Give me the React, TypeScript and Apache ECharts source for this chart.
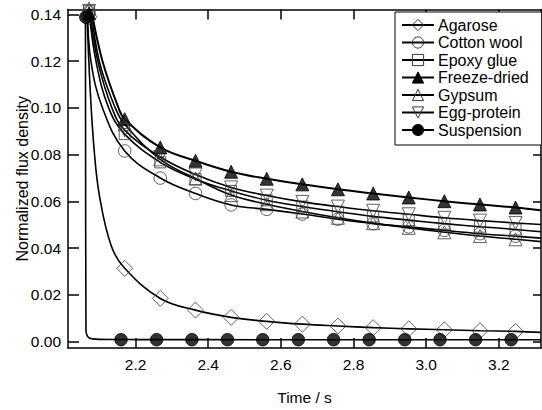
import React, { useEffect, useRef } from "react";
import * as echarts from "echarts";

// ---------- data ----------
const seriesNames = ["Agarose", "Cotton wool", "Epoxy glue", "Freeze-dried", "Gypsum", "Egg-protein", "Suspension"];

const xTickValues = [2.2, 2.4, 2.6, 2.8, 3.0, 3.2];
const yTickValues = [0.0, 0.02, 0.04, 0.06, 0.08, 0.1, 0.12, 0.14];

// sample (marker) times
const markerTimes = [2.072, 2.170, 2.268, 2.365, 2.463, 2.561, 2.659, 2.757, 2.854, 2.952, 3.050, 3.148, 3.246];
const suspensionTimes = [2.063, 2.160, 2.258, 2.355, 2.453, 2.550, 2.648, 2.745, 2.843, 2.941, 3.038, 3.136, 3.234];

// marker values
const agaroseMarkers = [0.1390, 0.0314, 0.0185, 0.0135, 0.0104, 0.0087, 0.0075, 0.0067, 0.0060, 0.0055, 0.0051, 0.0047, 0.0044];
const cottonMarkers = [0.1410, 0.0816, 0.0700, 0.0634, 0.0585, 0.0566, 0.0546, 0.0524, 0.0505, 0.0491, 0.0476, 0.0462, 0.0451];
const epoxyMarkers = [0.1415, 0.0888, 0.0767, 0.0695, 0.0645, 0.0605, 0.0578, 0.0556, 0.0536, 0.0520, 0.0505, 0.0492, 0.0480];
const freezeMarkers = [0.1405, 0.0952, 0.0831, 0.0774, 0.0727, 0.0697, 0.0673, 0.0652, 0.0634, 0.0617, 0.0601, 0.0587, 0.0574];
const gypsumMarkers = [0.1425, 0.0930, 0.0780, 0.0698, 0.0627, 0.0588, 0.0557, 0.0530, 0.0507, 0.0487, 0.0468, 0.0452, 0.0438];
const eggMarkers = [0.1415, 0.0905, 0.0790, 0.0715, 0.0660, 0.0625, 0.0598, 0.0578, 0.0560, 0.0545, 0.0530, 0.0518, 0.0508];
const suspensionMarkers = [0.1388, 0.00085, 0.00085, 0.00085, 0.00085, 0.00085, 0.00085, 0.00085, 0.00085, 0.00085, 0.00085, 0.00085, 0.00085];

// fitted curves: early part (steep drop)
const agaroseEarlyT = [2.066, 2.075, 2.086, 2.101, 2.133];
const agaroseEarlyY = [0.141, 0.108, 0.082, 0.062, 0.041];
const cottonEarlyT = [2.068, 2.077, 2.109];
const cottonEarlyY = [0.141, 0.120, 0.100];
const epoxyEarlyT = [2.072, 2.091, 2.126];
const epoxyEarlyY = [0.1415, 0.120, 0.100];
const freezeEarlyT = [2.080, 2.109, 2.153];
const freezeEarlyY = [0.1405, 0.120, 0.100];
const gypsumEarlyT = [2.078, 2.100, 2.144];
const gypsumEarlyY = [0.1425, 0.120, 0.100];
const eggEarlyT = [2.074, 2.096, 2.135];
const eggEarlyY = [0.1415, 0.120, 0.100];
const suspensionCurveT = [2.062, 2.0635, 2.067, 2.073, 2.082, 2.100, 2.200, 2.600, 3.000, 3.316];
const suspensionCurveY = [0.139, 0.0047, 0.0025, 0.0016, 0.0012, 0.0010, 0.0009, 0.00085, 0.0008, 0.0008];

// curve values at the right edge of the plot
const endTime = 3.316;
const endValues = [0.0040, 0.0443, 0.0470, 0.0562, 0.0428, 0.0501];

// ---------- chart ----------
const FONT = "'Liberation Sans', Arial, Helvetica, sans-serif";
const X_MIN = 2.014;
const X_MAX = 3.316;
const Y_MIN = -0.0027;
const Y_MAX = 0.1421;

function zip(ts: number[], ys: number[]) {
  return ts.map((t, i) => [t, ys[i]]);
}

export default function App() {
  const ref = useRef<HTMLDivElement>(null);

  useEffect(() => {
    if (!ref.current) return;
    const chart = echarts.init(ref.current, undefined, { renderer: "svg" });

    const markerSets = [agaroseMarkers, cottonMarkers, epoxyMarkers, freezeMarkers, gypsumMarkers, eggMarkers];
    const earlyT = [agaroseEarlyT, cottonEarlyT, epoxyEarlyT, freezeEarlyT, gypsumEarlyT, eggEarlyT];
    const earlyY = [agaroseEarlyY, cottonEarlyY, epoxyEarlyY, freezeEarlyY, gypsumEarlyY, eggEarlyY];

    const symbols = ["diamond", "circle", "rect", "triangle", "triangle", "triangle", "circle"];
    const rotations = [0, 0, 0, 0, 0, 180, 0];
    const sizes: any[] = [16, 12.5, 11, 13, 13, 13, 12.5];
    const filled = [false, false, false, true, false, false, true];

    const itemStyleFor = (i: number) =>
      filled[i]
        ? { color: "#000", borderColor: "#000", borderWidth: 1 }
        : { color: "rgba(255,255,255,0)", borderColor: "#3a3a3a", borderWidth: 1 };

    const lineSeries: any[] = [];
    const scatterSeries: any[] = [];

    seriesNames.forEach((name, i) => {
      let curve: number[][];
      let markers: number[][];
      if (i < 6) {
        curve = [
          ...zip(earlyT[i], earlyY[i]),
          ...zip(markerTimes.slice(1), markerSets[i].slice(1)),
          [endTime, endValues[i]],
        ];
        markers = zip(markerTimes, markerSets[i]);
      } else {
        curve = zip(suspensionCurveT, suspensionCurveY);
        markers = zip(suspensionTimes, suspensionMarkers);
      }
      lineSeries.push({
        name,
        type: "line",
        data: curve,
        smooth: 0.4,
        showSymbol: false,
        symbol: symbols[i],
        symbolRotate: rotations[i],
        symbolSize: sizes[i],
        itemStyle: itemStyleFor(i),
        lineStyle: { color: "#000", width: i === 3 ? 2 : 1.6 },
        z: 2,
      });
      scatterSeries.push({
        name,
        type: "scatter",
        data: markers,
        symbol: symbols[i],
        symbolRotate: rotations[i],
        symbolSize: sizes[i],
        itemStyle: itemStyleFor(i),
        clip: false,
        z: 3,
      });
    });

    const axisCommon = {
      type: "value",
      axisLine: { show: true, onZero: false, lineStyle: { color: "#000", width: 1.5 } },
      splitLine: { show: false },
    };

    chart.setOption({
      animation: false,
      backgroundColor: "#fff",
      textStyle: { fontFamily: FONT },
      grid: { left: 68, top: 9.5, width: 473, height: 339.5, containLabel: false },
      legend: {
        show: true,
        data: seriesNames,
        orient: "vertical",
        left: 395,
        top: 12,
        padding: [5, 13, 7, 6],
        itemGap: 1.5,
        itemWidth: 32,
        itemHeight: 14,
        backgroundColor: "#fff",
        borderColor: "#000",
        borderWidth: 1,
        borderRadius: 0,
        selectedMode: false,
        itemStyle: { borderWidth: 1 },
        lineStyle: { width: 2 },
        textStyle: { fontFamily: FONT, fontSize: 16, color: "#000", padding: [0, 0, 0, -1] },
      },
      xAxis: [
        {
          ...axisCommon,
          position: "bottom",
          min: X_MIN,
          max: X_MAX,
          name: "Time / s",
          nameLocation: "middle",
          nameGap: 41,
          nameMoveOverlap: false,
          nameTextStyle: { fontFamily: FONT, fontSize: 15.5, color: "#000" },
          axisTick: { show: true, inside: true, length: 10, customValues: xTickValues, lineStyle: { color: "#000", width: 1.5 } },
          axisLabel: {
            show: true,
            customValues: xTickValues,
            margin: 8,
            fontFamily: FONT,
            fontSize: 15.5,
            color: "#000",
            formatter: (v: number) => v.toFixed(1),
          },
        },
        {
          ...axisCommon,
          position: "top",
          min: X_MIN,
          max: X_MAX,
          axisTick: { show: true, inside: true, length: 10, customValues: xTickValues, lineStyle: { color: "#000", width: 1.5 } },
          axisLabel: { show: false },
        },
      ],
      yAxis: [
        {
          ...axisCommon,
          position: "left",
          min: Y_MIN,
          max: Y_MAX,
          name: "Normalized flux density",
          nameLocation: "middle",
          nameGap: 38,
          nameMoveOverlap: false,
          nameRotate: 90,
          nameTextStyle: { fontFamily: FONT, fontSize: 16, color: "#000" },
          axisTick: { show: true, inside: true, length: 11, customValues: yTickValues, lineStyle: { color: "#000", width: 1.5 } },
          axisLabel: {
            show: true,
            customValues: yTickValues,
            margin: 7,
            fontFamily: FONT,
            fontSize: 15.5,
            color: "#000",
            formatter: (v: number) => v.toFixed(2),
          },
        },
        {
          ...axisCommon,
          position: "right",
          min: Y_MIN,
          max: Y_MAX,
          axisTick: { show: true, inside: true, length: 8, customValues: yTickValues, lineStyle: { color: "#000", width: 1.5 } },
          axisLabel: { show: false },
        },
      ],
      series: [...lineSeries, ...scatterSeries],
    });

    return () => chart.dispose();
  }, []);

  return (
    <div
      ref={ref}
      style={{ position: "fixed", left: 0, top: 0, width: 542, height: 410, background: "#fff" }}
    />
  );
}
